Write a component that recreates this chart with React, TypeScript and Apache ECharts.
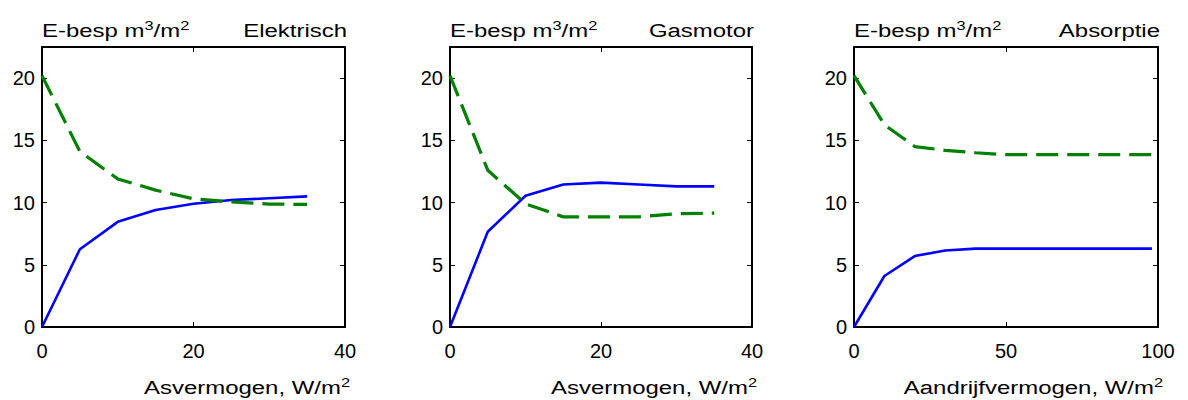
import React, { useEffect, useRef } from "react";
import * as echarts from "echarts";

const xElek = [0, 5, 10, 15, 20, 25, 30, 35];
const blueElek = [0, 6.25, 8.45, 9.4, 9.9, 10.2, 10.35, 10.5];
const greenElek = [20.2, 14.1, 11.9, 11.0, 10.3, 10.05, 9.88, 9.85];

const xGas = [0, 5, 10, 15, 20, 25, 30, 35];
const blueGas = [0, 7.65, 10.55, 11.45, 11.6, 11.45, 11.3, 11.3];
const greenGas = [20.2, 12.6, 9.9, 8.85, 8.85, 8.85, 9.1, 9.15];

const xAbs = [0, 10, 20, 30, 40, 50, 60, 70, 80, 90, 98];
const blueAbs = [0, 4.1, 5.7, 6.15, 6.3, 6.3, 6.3, 6.3, 6.3, 6.3, 6.3];
const greenAbs = [20.2, 16.25, 14.5, 14.2, 14.0, 13.85, 13.85, 13.85, 13.85, 13.85, 13.85];

const panelTitles = ["Elektrisch", "Gasmotor", "Absorptie"];
const xNames = ["Asvermogen, W/m", "Asvermogen, W/m", "Aandrijfvermogen, W/m"];
const xMax = [40, 40, 100];
const xInterval = [20, 20, 50];
const yTicks = { min: 0, max: 22.5, interval: 5 };

const FONT = "Liberation Sans, Arial, sans-serif";
const SX = 1.26;

export default function App() {
  const ref = useRef<HTMLDivElement>(null);
  useEffect(() => {
    document.body.style.margin = "0";
    const chart = echarts.init(ref.current!, null, { renderer: "svg" });
    const lefts = [42, 450, 854];
    const rights = [345, 752, 1158];
    const top = 47;
    const bottom = 327;
    const grids = lefts.map((l, i) => ({
      left: l,
      width: rights[i] - l,
      top,
      height: bottom - top,
      show: false,
    }));
    const xAxes: any[] = [];
    const yAxes: any[] = [];
    const series: any[] = [];
    const graphics: any[] = [];
    const datasets = [
      [xElek, blueElek, greenElek],
      [xGas, blueGas, greenGas],
      [xAbs, blueAbs, greenAbs],
    ];
    const base = { fontSize: 19, fontFamily: FONT, color: "#000", lineHeight: 22 };
    const sup = { fontSize: 13, fontFamily: FONT, color: "#000", lineHeight: 22, verticalAlign: "top", padding: [0, 0, 0, 0] };
    for (let i = 0; i < 3; i++) {
      const axLine = { show: true, onZero: false, lineStyle: { color: "#000", width: 2 } };
      const tick = { show: true, inside: true, length: 5, lineStyle: { color: "#000", width: 1 } };
      const lbl = { color: "#000", fontSize: 20, fontFamily: FONT };
      xAxes.push({
        type: "value", gridIndex: i, position: "bottom", min: 0, max: xMax[i], interval: xInterval[i],
        axisLine: axLine, axisTick: tick, splitLine: { show: false },
        axisLabel: { ...lbl, margin: 14, showMaxLabel: true },
      });
      xAxes.push({
        type: "value", gridIndex: i, position: "top", min: 0, max: xMax[i], interval: xInterval[i],
        axisLine: axLine, axisTick: tick, splitLine: { show: false }, axisLabel: { show: false },
      });
      yAxes.push({
        type: "value", gridIndex: i, position: "left", ...yTicks,
        axisLine: axLine, axisTick: tick, splitLine: { show: false },
        axisLabel: { ...lbl, margin: 7, showMaxLabel: false },
      });
      yAxes.push({
        type: "value", gridIndex: i, position: "right", ...yTicks,
        axisLine: axLine, axisTick: tick, splitLine: { show: false }, axisLabel: { show: false },
      });
      const [xs, bl, gr] = datasets[i];
      series.push({
        type: "line", xAxisIndex: i * 2, yAxisIndex: i * 2, showSymbol: false, symbol: "none",
        data: xs.map((x, k) => [x, bl[k]]),
        lineStyle: { color: "#0000ff", width: 2.6 },
      });
      series.push({
        type: "line", xAxisIndex: i * 2, yAxisIndex: i * 2, showSymbol: false, symbol: "none",
        data: xs.map((x, k) => [x, gr[k]]),
        lineStyle: { color: "#008000", width: 3.2, type: [22, 9] },
      });
      graphics.push({
        type: "text", x: lefts[i], y: 19, scaleX: SX,
        style: {
          text: "{b|E-besp m}{s|3}{b|/m}{s|2}",
          rich: { b: base, s: sup },
          align: "left", verticalAlign: "top",
        },
      });
      graphics.push({
        type: "text", x: rights[i] + 2, y: 19, scaleX: SX,
        style: {
          text: "{b|" + panelTitles[i] + "}",
          rich: { b: base },
          align: "right", verticalAlign: "top",
        },
      });
      graphics.push({
        type: "text", x: rights[i] + 5, y: 376, scaleX: SX,
        style: {
          text: "{b|" + xNames[i] + "}{s|2}",
          rich: { b: base, s: sup },
          align: "right", verticalAlign: "top",
        },
      });
    }
    chart.setOption({
      animation: false,
      backgroundColor: "#fff",
      grid: grids,
      xAxis: xAxes,
      yAxis: yAxes,
      series,
      graphic: graphics,
    });
    return () => chart.dispose();
  }, []);
  return <div ref={ref} style={{ width: 1188, height: 400 }} />;
}
